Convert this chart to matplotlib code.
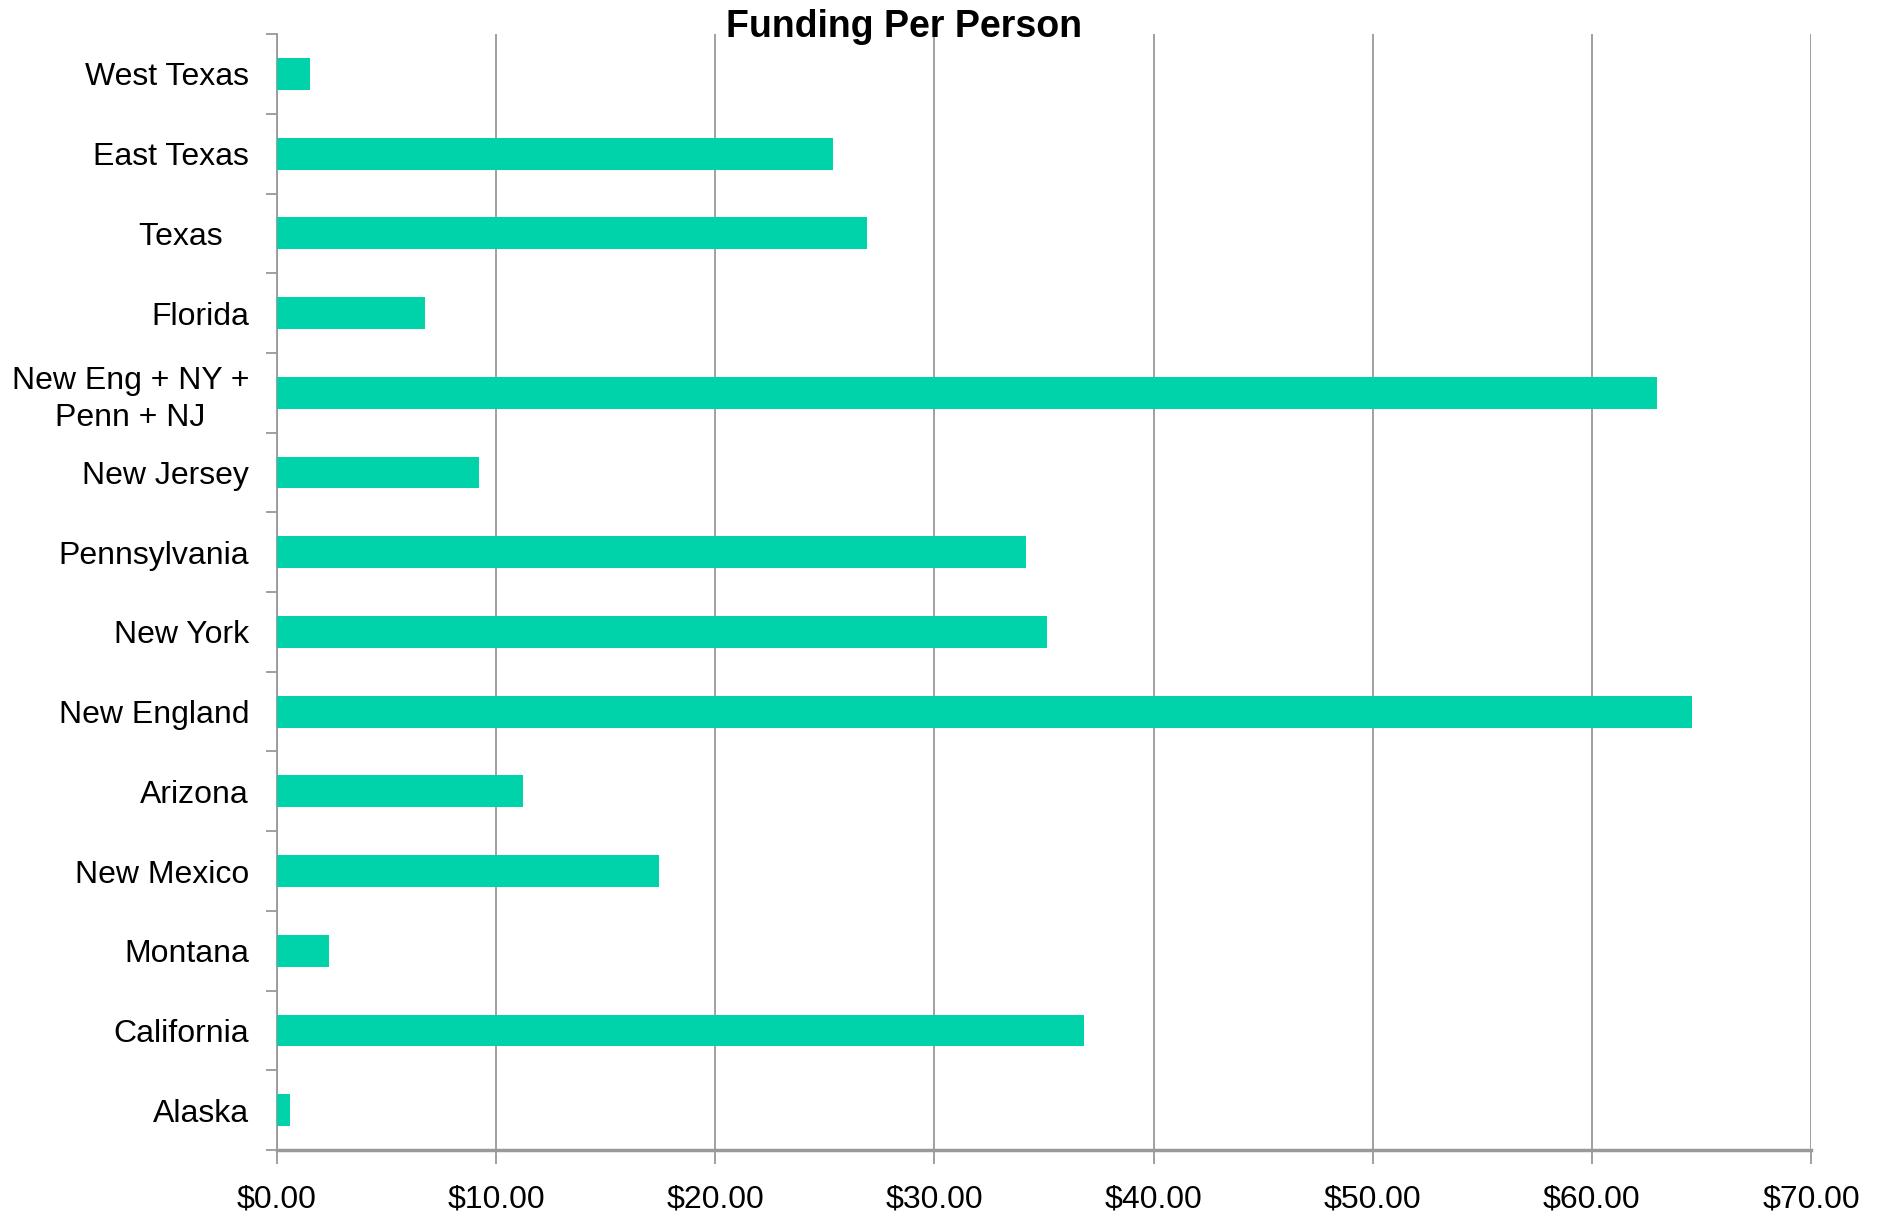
import matplotlib.pyplot as plt
import numpy as np
from matplotlib.ticker import FuncFormatter, MultipleLocator

plt.rcParams['font.family'] = ['Liberation Sans', 'DejaVu Sans']

regions = ['Alaska', 'California', 'Montana', 'New Mexico', 'Arizona', 'New England',
           'New York', 'Pennsylvania', 'New Jersey', 'New Eng + NY +\nPenn + NJ',
           'Florida', 'Texas   ', 'East Texas', 'West Texas']
funding = [0.60, 36.84, 2.36, 17.43, 11.24, 64.57,
           35.14, 34.20, 9.21, 62.98,
           6.74, 26.91, 25.38, 1.53]

fig = plt.figure(figsize=(18.83, 12.17), dpi=100)
ax = fig.add_axes([0.147, 0.055, 0.8148, 0.917])

y = np.arange(len(regions))
ax.barh(y, funding, height=0.4, color='#00d2aa', zorder=3)

ax.set_xlim(0, 70)
ax.set_ylim(-0.5, len(regions) - 0.5)
ax.xaxis.set_major_locator(MultipleLocator(10))
ax.xaxis.set_major_formatter(FuncFormatter(lambda v, p: f'${v:.2f}'))
ax.grid(axis='x', color='#999999', linewidth=1.3, zorder=0)

ax.set_yticks(y)
ax.set_yticklabels(regions, multialignment='center', linespacing=1.3)
ax.set_yticks(np.arange(-0.5, len(regions), 1), minor=True)
ax.tick_params(axis='y', which='major', length=0, pad=20, labelsize=23)
ax.tick_params(axis='y', which='minor', length=8, width=1.3, color='#999999')
ax.tick_params(axis='x', length=10, width=1.3, color='#999999', pad=15, labelsize=23)

for s in ['top', 'right']:
    ax.spines[s].set_visible(False)
ax.spines['left'].set_color('#999999')
ax.spines['left'].set_linewidth(1.3)
ax.spines['bottom'].set_color('#999999')
ax.spines['bottom'].set_linewidth(2.5)

fig.text(0.48, 0.978, 'Funding Per Person', ha='center', va='center',
         fontsize=27, fontweight='bold')

fig.savefig('out.png', dpi=100)
